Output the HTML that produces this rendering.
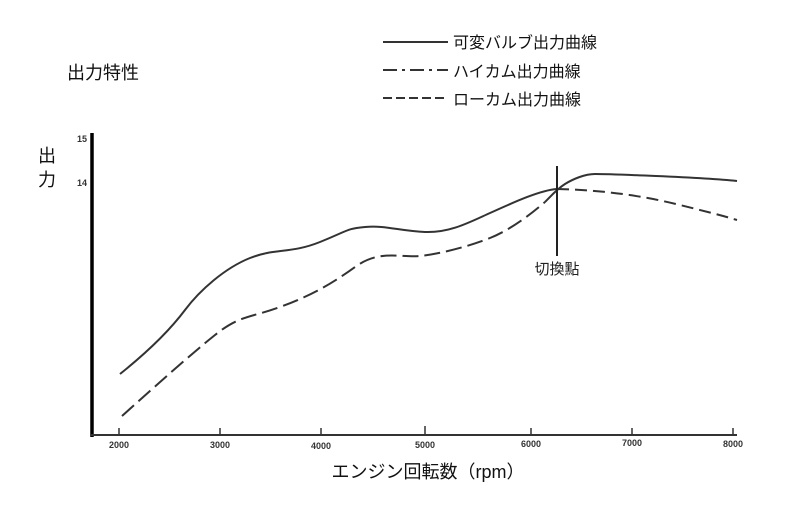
<!DOCTYPE html>
<html><head><meta charset="utf-8"><style>
body{margin:0;background:#fff;}
svg text{font-family:"Liberation Sans","Noto Sans CJK JP",sans-serif;}
</style></head><body>
<svg width="800" height="500" viewBox="0 0 800 500" xmlns="http://www.w3.org/2000/svg">
<rect width="800" height="500" fill="#fff"/>
<text x="67" y="79" font-size="18" fill="#111">出力特性</text>
<g stroke="#333" stroke-width="2" fill="none">
<line x1="383" y1="42" x2="448" y2="42"/>
<line x1="383" y1="70" x2="448" y2="70" stroke-dasharray="14,5,3,5"/>
<line x1="383" y1="98" x2="448" y2="98" stroke-dasharray="9,4"/>
</g>
<g font-size="16" fill="#111">
<text x="453" y="48">可変バルブ出力曲線</text>
<text x="453" y="77">ハイカム出力曲線</text>
<text x="453" y="105">ローカム出力曲線</text>
</g>
<text x="38" y="162" font-size="18" fill="#111">出</text>
<text x="38" y="186" font-size="18" fill="#111">力</text>
<text x="77" y="142" font-size="9" font-weight="bold" fill="#333">15</text>
<text x="77" y="186" font-size="9" font-weight="bold" fill="#333">14</text>
<line x1="92" y1="133" x2="92" y2="437" stroke="#000" stroke-width="3.5"/>
<line x1="91" y1="435" x2="737" y2="435" stroke="#333" stroke-width="2"/>
<g stroke="#333" stroke-width="1.5">
<line x1="119" y1="428" x2="119" y2="435"/><line x1="220" y1="428" x2="220" y2="435"/>
<line x1="321" y1="428" x2="321" y2="435"/><line x1="425" y1="426" x2="425" y2="435"/>
<line x1="531" y1="428" x2="531" y2="435"/><line x1="632" y1="428" x2="632" y2="435"/>
<line x1="733" y1="428" x2="733" y2="435"/>
</g>
<g font-size="9" font-weight="bold" fill="#333" text-anchor="middle">
<text x="119" y="448">2000</text><text x="220" y="448">3000</text><text x="321" y="449">4000</text>
<text x="425" y="448">5000</text><text x="531" y="447">6000</text><text x="632" y="446">7000</text><text x="733" y="447">8000</text>
</g>
<text x="428" y="478" font-size="18" fill="#111" text-anchor="middle">エンジン回転数（rpm）</text>
<g fill="none" stroke="#333" stroke-width="2">
<path d="M120,374 C150,350 170,330 185,310 S225,268 250,258 S290,254 320,242 S345,229 365,227 S400,231 425,232 S470,222 490,213 S540,190 557,189"/>
<path d="M557,189 C600,190 640,195 680,205 S720,215 737,220" stroke-dasharray="12,6"/>
<path d="M122,416 C160,382 190,355 215,335 S250,318 280,307 S330,285 355,267 S400,258 420,256 S470,246 490,238 S530,215 545,202" stroke-dasharray="16,6"/>
<path d="M545,202 C552,195 557,189 565,184 S585,174 595,174 S700,177 737,181"/>
</g>
<line x1="557" y1="166" x2="557" y2="256" stroke="#222" stroke-width="2"/>
<text x="557" y="274" font-size="15" fill="#222" text-anchor="middle">切換點</text>
</svg>
</body></html>
